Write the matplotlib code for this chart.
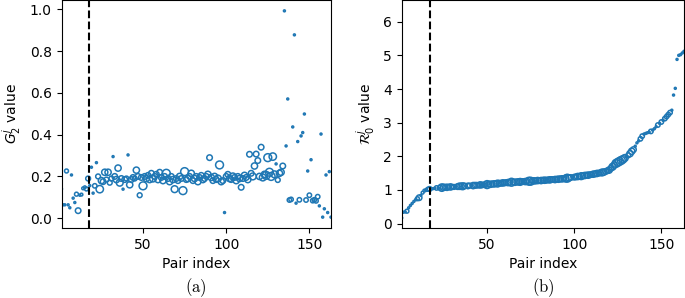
import matplotlib
matplotlib.use("Agg")
import matplotlib.pyplot as plt
import numpy as np

g2_values = [
    0.14, 0.064, 0.064, 0.226, 0.064, 0.05, 0.207, 0.096, 0.075, 0.115,
    0.036, 0.11, 0.113, 0.143, 0.148, 0.14, 0.19, 0.156, 0.244, 0.12,
    0.155, 0.266, 0.2, 0.139, 0.18, 0.175, 0.22, 0.185, 0.22, 0.17,
    0.19, 0.295, 0.2, 0.185, 0.24, 0.17, 0.19, 0.139, 0.185, 0.19,
    0.303, 0.16, 0.185, 0.195, 0.19, 0.23, 0.2, 0.11, 0.195, 0.155,
    0.2, 0.19, 0.205, 0.185, 0.215, 0.19, 0.2, 0.21, 0.185, 0.22,
    0.195, 0.18, 0.2, 0.215, 0.19, 0.175, 0.2, 0.185, 0.139, 0.19,
    0.18, 0.2, 0.19, 0.132, 0.223, 0.185, 0.19, 0.2, 0.215, 0.18,
    0.19, 0.2, 0.175, 0.195, 0.205, 0.185, 0.19, 0.2, 0.21, 0.29,
    0.195, 0.18, 0.2, 0.185, 0.19, 0.255, 0.175, 0.18, 0.027, 0.2,
    0.21, 0.19, 0.185, 0.2, 0.195, 0.18, 0.2, 0.19, 0.148, 0.19,
    0.205, 0.195, 0.185, 0.306, 0.215, 0.2, 0.25, 0.307, 0.276, 0.2,
    0.34, 0.195, 0.21, 0.205, 0.29, 0.22, 0.2, 0.295, 0.21, 0.26,
    0.183, 0.215, 0.22, 0.25, 0.993, 0.346, 0.571, 0.087, 0.09, 0.437,
    0.878, 0.072, 0.367, 0.088, 0.394, 0.41, 0.499, 0.087, 0.226, 0.11,
    0.28, 0.084, 0.088, 0.083, 0.103, 0.059, 0.403, 0.005, 0.045, 0.207,
    0.027, 0.223, 0.005,
]

r0_values = [
    0.17, 0.34, 0.35, 0.37, 0.47, 0.54, 0.60, 0.66, 0.71, 0.74,
    0.77, 0.84, 0.92, 0.98, 1.00, 1.02, 1.03, 1.03, 1.04, 1.05,
    1.06, 1.06, 1.07, 1.07, 1.08, 1.08, 1.08, 1.09, 1.09, 1.09,
    1.09, 1.10, 1.10, 1.11, 1.11, 1.11, 1.12, 1.12, 1.12, 1.13,
    1.13, 1.13, 1.14, 1.14, 1.14, 1.15, 1.15, 1.15, 1.16, 1.16,
    1.17, 1.17, 1.18, 1.18, 1.19, 1.19, 1.20, 1.20, 1.21, 1.21,
    1.22, 1.22, 1.22, 1.23, 1.23, 1.23, 1.24, 1.24, 1.24, 1.25,
    1.25, 1.25, 1.26, 1.26, 1.26, 1.27, 1.27, 1.27, 1.28, 1.28,
    1.28, 1.29, 1.29, 1.29, 1.30, 1.30, 1.31, 1.31, 1.31, 1.32,
    1.32, 1.33, 1.33, 1.34, 1.34, 1.35, 1.36, 1.37, 1.38, 1.38,
    1.39, 1.40, 1.40, 1.41, 1.42, 1.43, 1.44, 1.44, 1.45, 1.46,
    1.47, 1.48, 1.49, 1.50, 1.51, 1.52, 1.53, 1.55, 1.57, 1.59,
    1.64, 1.69, 1.74, 1.79, 1.82, 1.85, 1.88, 1.91, 1.95, 1.98,
    2.03, 2.08, 2.15, 2.20, 2.30, 2.40, 2.46, 2.52, 2.60, 2.66,
    2.68, 2.70, 2.72, 2.74, 2.78, 2.82, 2.88, 2.93, 2.98, 3.02,
    3.07, 3.12, 3.18, 3.24, 3.30, 3.37, 3.82, 4.02, 4.88, 5.00,
    5.02, 5.07, 5.12,
]

marker_sizes = [
    1, 1, 1, 4, 1, 1, 1, 1, 1, 4,
    8, 1, 2, 2, 2, 4, 6, 1, 1, 1,
    5, 1, 6, 14, 10, 8, 10, 6, 10, 6,
    6, 1, 8, 10, 10, 12, 8, 1, 8, 6,
    1, 10, 8, 8, 6, 10, 8, 6, 8, 16,
    8, 10, 8, 10, 8, 12, 8, 8, 10, 8,
    8, 10, 8, 16, 8, 10, 8, 10, 12, 8,
    8, 10, 8, 16, 16, 8, 10, 8, 10, 8,
    10, 8, 10, 8, 8, 10, 8, 8, 10, 8,
    10, 8, 10, 8, 12, 16, 10, 8, 1, 8,
    8, 10, 8, 12, 8, 10, 8, 10, 8, 8,
    10, 8, 10, 8, 8, 12, 10, 8, 8, 10,
    8, 12, 10, 16, 16, 16, 16, 14, 12, 1,
    6, 10, 10, 8, 1, 1, 1, 5, 5, 1,
    1, 1, 1, 5, 1, 1, 1, 5, 1, 5,
    1, 5, 5, 5, 5, 1, 1, 1, 1, 1,
    1, 1, 1,
]

threshold_index = 17.5
pair_index = np.arange(1, len(g2_values) + 1)
size_scale = 2.0

W, H = 685, 298
fig = plt.figure(figsize=(W / 100, H / 100), dpi=100)

ax1 = fig.add_axes([61.5 / W, 70 / H, 269.5 / W, 228 / H])
ax2 = fig.add_axes([401.7 / W, 70 / H, 282.3 / W, 228 / H])

color = '#1f77b4'
sizes = [s * size_scale for s in marker_sizes]
for ax, vals in ((ax1, g2_values), (ax2, r0_values)):
    ax.scatter(pair_index, vals, s=sizes, facecolors='none',
               edgecolors=color, linewidths=1.1)
    ax.axvline(threshold_index, color='black', linestyle='--', linewidth=1.5)
    ax.set_xlim(1, 163)
    ax.set_xticks([50, 100, 150])
    ax.set_xlabel('Pair index', fontsize=10)
    ax.tick_params(labelsize=10)

ax1.set_ylim(-0.047, 1.045)
ax1.set_yticks([0.0, 0.2, 0.4, 0.6, 0.8, 1.0])
ax1.set_ylabel(r'$G_2^j$ value', fontsize=10)

ax2.set_ylim(-0.13, 6.645)
ax2.set_yticks([0, 1, 2, 3, 4, 5, 6])
ax2.set_ylabel(r'$\mathcal{R}_0^j$ value', fontsize=10)

fig.text(196 / W, 1 - 288 / H, r'$\mathrm{(a)}$', ha='center', va='center',
         fontsize=12, math_fontfamily='cm')
fig.text(543 / W, 1 - 288 / H, r'$\mathrm{(b)}$', ha='center', va='center',
         fontsize=12, math_fontfamily='cm')

fig.savefig('out.png', dpi=100)
